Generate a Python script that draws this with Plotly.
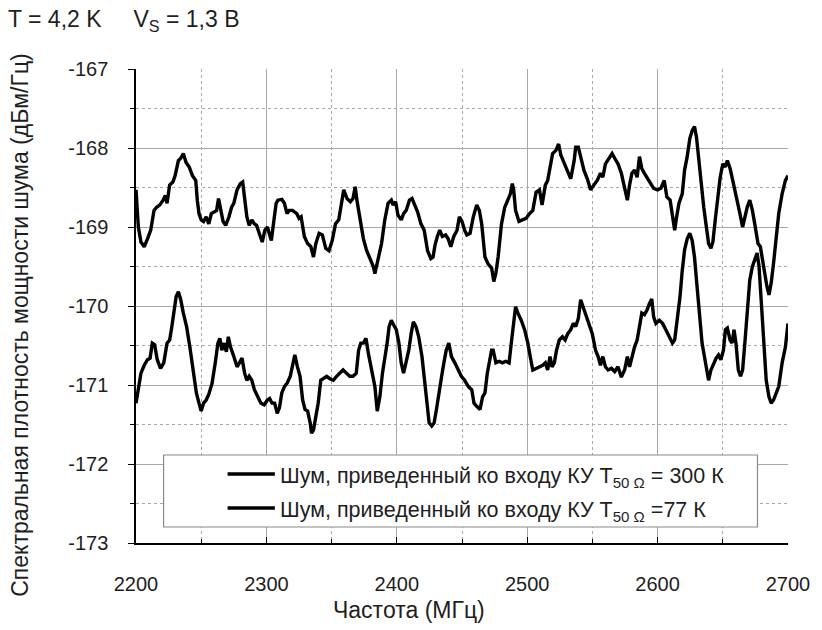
import plotly.graph_objects as go

# ---------------- data ----------------
upper_freq = [
    2200, 2201.8, 2203.8, 2206.3, 2208.8, 2211.3, 2213.8, 2215.8, 2218.3, 2220.8,
    2222.5, 2223.8, 2225.8, 2228.3, 2230, 2232.5, 2234.3, 2236.3, 2238.3, 2240.8,
    2243.3, 2245.8, 2247, 2248.3, 2250, 2251.8, 2253.8, 2255.8, 2257.8, 2260,
    2261.8, 2263.3, 2265, 2266.8, 2268.8, 2271.3, 2273.3, 2275, 2277.5, 2280,
    2281.8, 2283.3, 2285, 2286.8, 2288.8, 2290.8, 2292.5, 2294.5, 2296.8, 2298.8,
    2300.8, 2302.5, 2303.8, 2305.8, 2307.5, 2308.8, 2311.8, 2313.8, 2315.8, 2317.5,
    2320, 2323.3, 2325,
    2326.6, 2329.1, 2331.6, 2334.1, 2336.1, 2337.9, 2340.4, 2342.9, 2345.5, 2348.0,
    2350.5, 2353.0, 2355.5, 2358.1, 2359.3, 2361.8, 2364.4, 2366.4, 2368.1, 2369.4,
    2371.9, 2374.4, 2376.9, 2379.5, 2382.0, 2383.2, 2385.8, 2388.3, 2390.8, 2393.3,
    2395.8, 2397.1, 2399.1, 2400.9, 2403.4, 2405.2, 2407.2, 2409.7, 2411.7, 2413.5,
    2416.0, 2418.5, 2421.0, 2423.6, 2426.1, 2427.8, 2429.3, 2431.1, 2432.9, 2434.9,
    2437.4, 2439.4, 2441.4, 2443.7, 2446.2, 2448.0, 2450.0, 2452.0,
    2453.7, 2456.2, 2458.7, 2461.3, 2463.3, 2465.1, 2467.6, 2470.1, 2472.7, 2474.4,
    2476.0, 2477.7, 2480.3, 2482.8, 2485.3, 2487.1, 2488.6, 2489.6, 2491.1, 2493.7,
    2496.2, 2499.2, 2501.8, 2504.3, 2506.8, 2509.4, 2511.4, 2513.9, 2515.7, 2517.5,
    2519.5, 2522.0, 2524.1, 2525.8, 2528.4, 2530.9, 2533.4, 2536.0, 2537.2, 2539.2,
    2541.0, 2543.5, 2546.1, 2548.6, 2551.1, 2553.7, 2556.2, 2558.0, 2560.0, 2562.5,
    2565.1, 2567.1, 2569.6, 2572.2,
    2574.7, 2576.8, 2578.5, 2580.3, 2582.3, 2584.3, 2586.1, 2587.9, 2589.9, 2591.9,
    2594.4, 2597.0, 2600.0, 2602.5, 2605.1, 2607.1, 2609.6, 2611.4, 2613.1, 2614.6,
    2616.4, 2618.9, 2620.7, 2622.7, 2624.7, 2626.5, 2628.3, 2629.8, 2631.6, 2633.3,
    2635.4, 2637.4, 2639.1, 2640.9, 2642.4, 2644.2, 2646.0, 2648.0, 2650.0, 2651.8,
    2653.5, 2655.6, 2657.6, 2660.1, 2662.6, 2665.2, 2666.9, 2668.7, 2670.7, 2672.7,
    2674.5, 2675.8, 2677.0, 2678.8, 2680.3, 2682.1, 2683.8, 2685.4, 2687.1, 2688.9,
    2690.9, 2692.9, 2695.5, 2698.0, 2700.0,
]
upper_db = [
    -168.53, -169.0, -169.19, -169.25, -169.15, -169.04, -168.79, -168.75, -168.72, -168.66,
    -168.60, -168.70, -168.47, -168.43, -168.35, -168.16, -168.13, -168.07, -168.18, -168.24,
    -168.35, -168.41, -168.66, -168.83, -168.91, -168.93, -168.87, -168.96, -168.83, -168.81,
    -168.79, -168.64, -168.79, -168.93, -168.98, -168.87, -168.75, -168.70, -168.53, -168.45,
    -168.43, -168.62, -168.87, -168.98, -168.91, -168.96, -168.98, -169.08, -169.19, -169.04,
    -169.0, -169.10, -169.17, -168.91, -168.70, -168.66, -168.65, -168.70, -168.83, -168.79,
    -168.79, -168.83, -168.89,
    -168.87, -169.12, -169.21, -169.25, -169.38, -169.21, -169.08, -169.10, -169.27, -169.30,
    -169.17, -168.96, -168.91, -168.62, -168.53, -168.64, -168.68, -168.64, -168.49, -168.66,
    -168.91, -169.15, -169.30, -169.40, -169.50, -169.59, -169.38, -169.21, -168.91, -168.70,
    -168.66, -168.72, -168.68, -168.85, -168.91, -168.83, -168.79, -168.66, -168.64, -168.72,
    -168.81, -168.96, -169.04, -169.30, -169.40, -169.38, -169.23, -169.12, -169.04, -169.12,
    -169.10, -169.15, -169.25, -169.12, -169.04, -168.87, -168.93, -169.04,
    -169.10, -169.08, -168.87, -168.72, -168.79, -168.96, -169.38, -169.47, -169.52, -169.69,
    -169.58, -169.38, -168.96, -168.75, -168.64, -168.58, -168.45, -168.53, -168.79, -168.93,
    -168.91, -168.89, -168.83, -168.79, -168.56, -168.53, -168.72, -168.47, -168.41, -168.26,
    -168.07, -168.03, -167.95, -168.09, -168.20, -168.30, -168.39, -168.16, -167.99, -167.99,
    -168.13, -168.28, -168.39, -168.53, -168.47, -168.41, -168.32, -168.37, -168.20, -168.13,
    -168.07, -168.13, -168.20, -168.32,
    -168.49, -168.66, -168.47, -168.32, -168.28, -168.37, -168.11, -168.26, -168.32, -168.37,
    -168.45, -168.51, -168.53, -168.51, -168.41, -168.62, -168.66, -168.83, -169.04, -168.87,
    -168.70, -168.58, -168.28, -168.11, -167.88, -167.78, -167.73, -167.86, -168.15, -168.45,
    -168.75, -169.0, -169.21, -169.27, -169.19, -168.91, -168.62, -168.37, -168.20, -168.24,
    -168.16, -168.26, -168.41, -168.58, -168.79, -169.0, -168.87, -168.75, -168.66, -168.79,
    -168.96, -169.12, -169.21, -169.25, -169.42, -169.63, -169.75, -169.86, -169.71, -169.46,
    -169.12, -168.83, -168.58, -168.41, -168.35,
]

lower_freq = [
    2200, 2201.8, 2203.8, 2206.3, 2208.8, 2210.8, 2212.5, 2214.3, 2216.3, 2218.8,
    2221.3, 2223.8, 2225.8, 2227.5, 2229.3, 2230.8, 2232.5, 2234.3, 2236.3, 2238.8,
    2241.3, 2243.8, 2246.3, 2248.3, 2250, 2251.8, 2253.8, 2255.8, 2258.3, 2260.8,
    2262.8, 2264.3, 2265.8, 2267.5, 2269.3, 2270.8, 2272.5, 2275, 2277.5, 2279.3,
    2281.3, 2283.3, 2285, 2286.8, 2288.8, 2290.8, 2293.3, 2295.8, 2298.3, 2300.8,
    2302.5, 2304.3, 2306.3, 2308.3, 2310, 2311.8, 2313.8, 2315.8, 2318.3, 2320,
    2321.8, 2323.8, 2325.8,
    2327.8, 2329.6, 2331.6, 2333.6, 2334.6, 2336.1, 2337.9, 2339.7, 2341.7, 2343.7,
    2346.2, 2348.7, 2351.3, 2353.8, 2356.3, 2358.8, 2361.3, 2363.9, 2366.4, 2368.9,
    2370.7, 2372.4, 2374.4, 2376.4, 2378.2, 2380.7, 2383.2, 2385.0, 2387.0, 2389.0,
    2390.8, 2392.6, 2394.1, 2395.8, 2397.6, 2399.6, 2401.6, 2403.4, 2405.2, 2407.2,
    2409.2, 2411.0, 2412.7, 2414.7, 2416.8, 2419.3, 2421.0, 2422.8, 2424.8, 2426.8,
    2428.6, 2430.4, 2432.4, 2434.4, 2436.1, 2437.9, 2439.9, 2441.9, 2444.5, 2447.0,
    2449.5, 2452.0,
    2454.9, 2457.5, 2459.2, 2461.3, 2463.8, 2465.8, 2467.6, 2469.4, 2470.9, 2472.7,
    2473.9, 2476.0, 2478.5, 2481.0, 2483.5, 2486.1, 2487.8, 2489.6, 2491.1, 2492.9,
    2495.4, 2498.0, 2500.5, 2502.3, 2504.3, 2506.8, 2509.4, 2511.9, 2513.9, 2515.7,
    2517.5, 2519.0, 2520.8, 2522.5, 2524.6, 2527.1, 2529.1, 2531.1, 2533.4, 2535.4,
    2537.2, 2539.2, 2541.0, 2542.8, 2544.8, 2547.3, 2549.9, 2552.4, 2554.4, 2556.2,
    2558.0, 2560.0, 2562.0, 2564.6, 2567.1, 2569.6, 2572.2,
    2574.7, 2576.8, 2578.5, 2580.3, 2582.3, 2584.3, 2586.1, 2587.9, 2589.9, 2591.9,
    2593.7, 2595.5, 2597.0, 2598.7, 2601.3, 2603.8, 2606.3, 2608.8, 2611.4, 2613.1,
    2615.2, 2617.2, 2618.9, 2620.7, 2622.7, 2624.7, 2626.5, 2628.3, 2630.3, 2632.3,
    2634.1, 2635.9, 2637.4, 2639.1, 2640.9, 2642.9, 2644.9, 2646.7, 2648.5, 2650.5,
    2652.0, 2653.5, 2655.6, 2657.1, 2658.6, 2660.1, 2661.9, 2663.6, 2665.2, 2666.9,
    2668.7, 2670.7, 2672.7, 2674.5, 2676.3, 2677.8, 2679.5, 2681.3, 2683.3, 2685.4,
    2687.1, 2688.9, 2690.9, 2692.9, 2695.5, 2698.0, 2700.0,
]
lower_db = [
    -171.23, -171.02, -170.85, -170.75, -170.68, -170.66, -170.47, -170.49, -170.68, -170.79,
    -170.72, -170.47, -170.43, -170.26, -170.05, -169.88, -169.82, -169.92, -170.09, -170.26,
    -170.52, -170.81, -171.10, -171.23, -171.33, -171.23, -171.19, -171.12, -170.98, -170.72,
    -170.47, -170.41, -170.56, -170.47, -170.58, -170.39, -170.52, -170.64, -170.77, -170.72,
    -170.66, -170.85, -170.94, -170.89, -170.94, -171.06, -171.15, -171.23, -171.25, -171.19,
    -171.17, -171.23, -171.23, -171.36, -171.29, -171.10, -171.02, -170.98, -170.89, -170.77,
    -170.62, -170.77, -170.89,
    -171.19, -171.31, -171.33, -171.48, -171.61, -171.57, -171.40, -171.23, -170.94, -170.92,
    -170.89, -170.92, -170.94, -170.89, -170.85, -170.81, -170.85, -170.89, -170.89, -170.85,
    -170.56, -170.47, -170.47, -170.41, -170.60, -170.81, -171.02, -171.33, -171.15, -170.85,
    -170.68, -170.47, -170.26, -170.18, -170.24, -170.30, -170.47, -170.72, -170.85, -170.72,
    -170.56, -170.35, -170.20, -170.26, -170.39, -170.64, -170.89, -171.23, -171.48, -171.52,
    -171.48, -171.31, -171.06, -170.89, -170.72, -170.56, -170.47, -170.64, -170.72, -170.81,
    -170.89, -170.94,
    -171.02, -171.06, -171.23, -171.27, -171.31, -171.15, -171.10, -170.85, -170.72, -170.56,
    -170.56, -170.72, -170.70, -170.72, -170.70, -170.72, -170.47, -170.22, -170.01, -170.09,
    -170.18, -170.30, -170.47, -170.64, -170.81, -170.79, -170.77, -170.75, -170.72, -170.81,
    -170.64, -170.77, -170.72, -170.56, -170.43, -170.39, -170.43, -170.35, -170.30, -170.22,
    -170.26, -170.16, -169.92, -170.01, -170.09, -170.22, -170.35, -170.56, -170.64, -170.75,
    -170.64, -170.77, -170.81, -170.79, -170.83, -170.77, -170.90,
    -170.81, -170.64, -170.77, -170.64, -170.52, -170.43, -170.26, -170.09, -170.11, -170.05,
    -169.97, -169.91, -170.14, -170.22, -170.18, -170.22, -170.30, -170.39, -170.47, -170.43,
    -170.18, -169.88, -169.55, -169.29, -169.15, -169.08, -169.17, -169.38, -169.76, -170.14,
    -170.47, -170.64, -170.81, -170.94, -170.81, -170.72, -170.66, -170.62, -170.68, -170.56,
    -170.30, -170.28, -170.43, -170.47, -170.30, -170.47, -170.81, -170.89, -170.81, -170.47,
    -170.05, -169.67, -169.50, -169.42, -169.33, -169.50, -169.97, -170.47, -170.94, -171.15,
    -171.23, -171.19, -171.10, -171.02, -170.72, -170.52, -170.22,
]

x_ticks = [2200, 2300, 2400, 2500, 2600, 2700]
x_tick_text = ["2200", "2300", "2400", "2500", "2600", "2700"]
y_ticks = [-173, -172, -171, -170, -169, -168, -167]
y_tick_text = ["-173", "-172", "-171", "-170", "-169", "-168", "-167"]
x_grid_major = [2300, 2400, 2500, 2600]
x_grid_minor = [2250, 2350, 2450, 2550, 2650]
y_grid_major = [-172, -171, -170, -169, -168]
y_grid_minor = [-172.5, -171.5, -170.5, -169.5, -168.5, -167.5]

series_names = [
    "Шум, приведенный ко входу КУ T<sub>50 Ω</sub>&nbsp;= 300 К",
    "Шум, приведенный ко входу КУ T<sub>50 Ω</sub>&nbsp;=77 К",
]
x_title = "Частота (МГц)"
y_title = "Спектральная плотность мощности шума (дБм/Гц)"
chart_title = "T = 4,2 K&nbsp;&nbsp;&nbsp;&nbsp;&nbsp;V<sub>S</sub> = 1,3 B"

# ---------------- figure ----------------
FONT = "Liberation Sans, Arial, sans-serif"
TXT = "#1e1e1e"
GRID = "#a8a8a8"

W, H = 822, 630
L, R, T, B = 136, 24, 69, 87
pw, ph = W - L - R, H - T - B
X_RANGE = [2200, 2700]
Y_RANGE = [-173, -167]


def px_x(x):
    return (x - L) / pw


def px_y(y):
    return (H - B - y) / ph


fig = go.Figure()
fig.add_trace(go.Scatter(x=upper_freq, y=upper_db, mode="lines", name=series_names[0],
                         line=dict(color="black", width=3.4), showlegend=False,
                         xaxis="x", yaxis="y"))
fig.add_trace(go.Scatter(x=lower_freq, y=lower_db, mode="lines", name=series_names[1],
                         line=dict(color="black", width=3.4), showlegend=False,
                         xaxis="x2", yaxis="y2"))

fig.update_layout(
    width=W, height=H,
    margin=dict(l=L, r=R, t=T, b=B),
    paper_bgcolor="white", plot_bgcolor="white",
    font=dict(family=FONT, size=20, color=TXT),
    showlegend=False,
    # main axes: line, ticks, labels (no grid)
    xaxis=dict(
        range=X_RANGE, tickmode="array", tickvals=x_ticks, ticktext=x_tick_text,
        showline=True, linecolor="black", linewidth=1.5,
        ticks="inside", ticklen=6, tickcolor="black", tickwidth=1.2,
        showgrid=False, zeroline=False,
        minor=dict(tickmode="array", tickvals=x_grid_minor, ticks="inside", ticklen=4,
                   tickcolor="black", showgrid=False),
        ticklabelstandoff=22,
        tickfont=dict(size=20, family=FONT, color=TXT),
    ),
    yaxis=dict(
        range=Y_RANGE, tickmode="array", tickvals=y_ticks, ticktext=y_tick_text,
        showline=True, linecolor="black", linewidth=1.5,
        ticks="outside", ticklen=6, tickcolor="black", tickwidth=1.2,
        showgrid=False, zeroline=False,
        minor=dict(tickmode="array", tickvals=y_grid_minor, ticks="outside", ticklen=4,
                   tickcolor="black", showgrid=False),
        ticklabelstandoff=16,
        tickfont=dict(size=20, family=FONT, color=TXT),
    ),
    # overlay axes: only the interior grid (no lines on the top/right edges)
    xaxis2=dict(
        range=X_RANGE, overlaying="x", anchor="y2", side="bottom",
        tickmode="array", tickvals=x_grid_major, showticklabels=False, ticks="",
        showline=False, zeroline=False,
        showgrid=True, gridcolor=GRID, gridwidth=1.3,
        minor=dict(tickmode="array", tickvals=x_grid_minor, showgrid=True,
                   gridcolor=GRID, griddash="dot", gridwidth=1.3, ticks=""),
    ),
    yaxis2=dict(
        range=Y_RANGE, overlaying="y", anchor="x2", side="left",
        tickmode="array", tickvals=y_grid_major, showticklabels=False, ticks="",
        showline=False, zeroline=False,
        showgrid=True, gridcolor=GRID, gridwidth=1.3,
        minor=dict(tickmode="array", tickvals=y_grid_minor, showgrid=True,
                   gridcolor=GRID, griddash="dot", gridwidth=1.3, ticks=""),
    ),
)

# legend box drawn as shapes + text
shapes = [
    dict(type="rect", xref="paper", yref="paper",
         x0=px_x(164), x1=px_x(767), y0=px_y(527), y1=px_y(455),
         line=dict(color="#8a8a8a", width=1.2), fillcolor="white", layer="above"),
    dict(type="line", xref="paper", yref="paper",
         x0=px_x(229), x1=px_x(277), y0=px_y(474), y1=px_y(474),
         line=dict(color="black", width=3.4), layer="above"),
    dict(type="line", xref="paper", yref="paper",
         x0=px_x(229), x1=px_x(277), y0=px_y(508), y1=px_y(508),
         line=dict(color="black", width=3.4), layer="above"),
]
fig.update_layout(shapes=shapes)

annotations = [
    dict(text=series_names[0], xref="paper", yref="paper", x=px_x(280), y=px_y(477),
         xanchor="left", yanchor="middle", showarrow=False, font=dict(size=21.5, color=TXT)),
    dict(text=series_names[1], xref="paper", yref="paper", x=px_x(280), y=px_y(511),
         xanchor="left", yanchor="middle", showarrow=False, font=dict(size=21.5, color=TXT)),
    dict(text=chart_title, xref="paper", yref="paper", x=px_x(4), y=px_y(21),
         xanchor="left", yanchor="middle", showarrow=False, font=dict(size=23, color=TXT)),
    dict(text=x_title, xref="paper", yref="paper", x=px_x(413), y=px_y(610),
         xanchor="center", yanchor="middle", showarrow=False, font=dict(size=23, color=TXT)),
    dict(text=y_title, xref="paper", yref="paper", x=px_x(18), y=px_y(325),
         xanchor="center", yanchor="middle", textangle=-90, showarrow=False,
         font=dict(size=23, color=TXT)),
]
fig.update_layout(annotations=annotations)

fig.write_html("out.html")
